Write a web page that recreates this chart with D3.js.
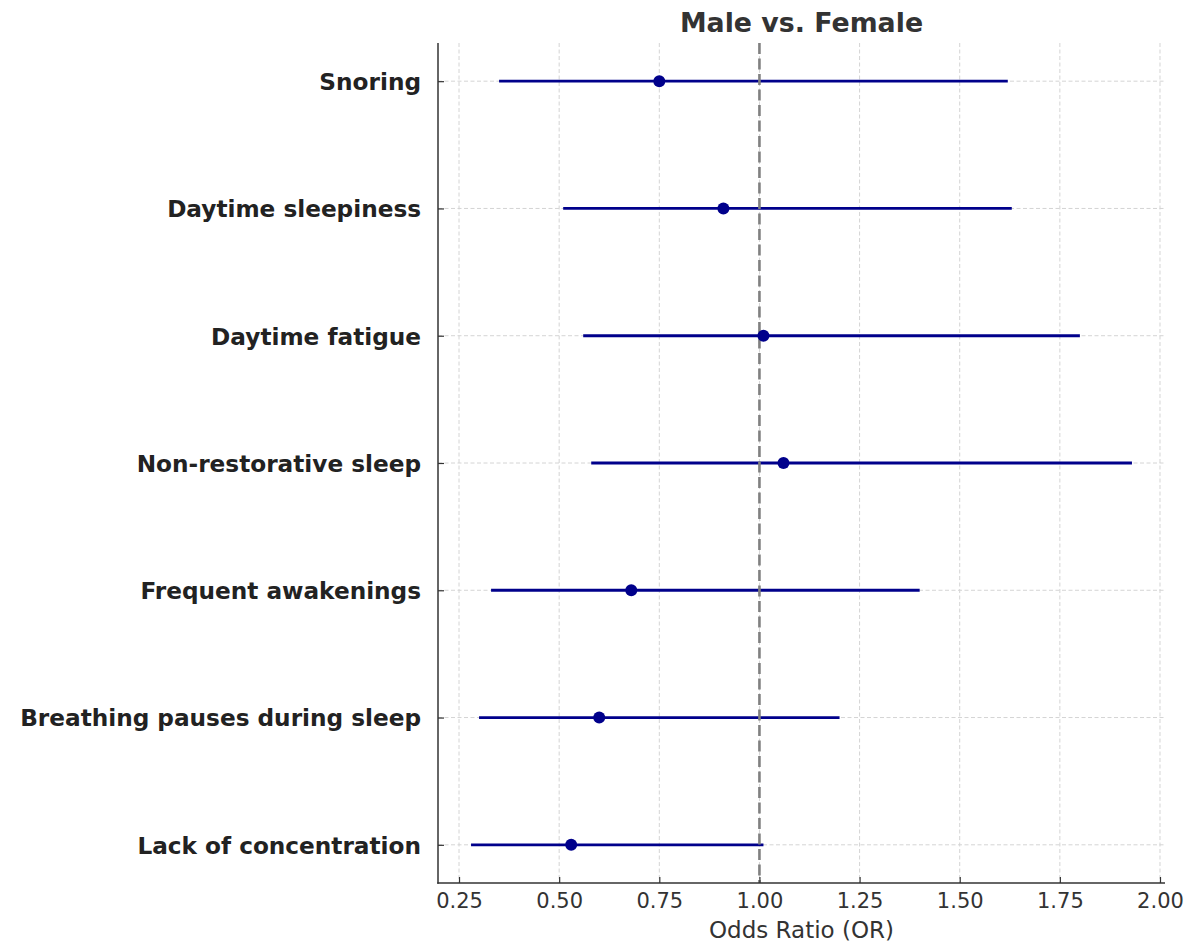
<!DOCTYPE html>
<html>
<head>
<meta charset="utf-8">
<script src="https://cdn.jsdelivr.net/npm/d3@7"></script>
<style>
  html, body { margin: 0; padding: 0; background: #fff; }
  svg { display: block; font-family: "DejaVu Sans", sans-serif; }
</style>
</head>
<body>
<svg id="chart" width="1194" height="946"></svg>
<script>
// Symptoms, top to bottom
const symptoms = [
  "Snoring",
  "Daytime sleepiness",
  "Daytime fatigue",
  "Non-restorative sleep",
  "Frequent awakenings",
  "Breathing pauses during sleep",
  "Lack of concentration"
];
// Odds ratios with 95% confidence limits
const oddsRatio = [0.75, 0.91, 1.01, 1.06, 0.68, 0.60, 0.53];
const ciLower   = [0.35, 0.51, 0.56, 0.58, 0.33, 0.30, 0.28];
const ciUpper   = [1.62, 1.63, 1.80, 1.93, 1.40, 1.20, 1.01];
const xTicks    = [0.25, 0.50, 0.75, 1.00, 1.25, 1.50, 1.75, 2.00];
const referenceOR = 1.0;

const svg = d3.select("#chart");
const plot = { left: 438, right: 1165, top: 43, bottom: 883 };

// 5% padding either side of the interval span
const lo = d3.min(ciLower), hi = d3.max(ciUpper), pad = (hi - lo) * 0.05;
const x = d3.scaleLinear().domain([lo - pad, hi + pad]).range([plot.left, plot.right]);
const y = d3.scalePoint().domain(symptoms).range([plot.top, plot.bottom]).padding(0.3);

// Grid
const grid = svg.append("g").attr("stroke", "#d4d4d4").attr("stroke-width", 1)
  .attr("stroke-dasharray", "4,2.5");
grid.selectAll("line.v").data(xTicks).join("line").attr("class", "v")
  .attr("x1", d => x(d)).attr("x2", d => x(d)).attr("y1", plot.top).attr("y2", plot.bottom);
grid.selectAll("line.h").data(symptoms).join("line").attr("class", "h")
  .attr("x1", plot.left).attr("x2", plot.right).attr("y1", d => y(d)).attr("y2", d => y(d));

// Confidence intervals
svg.append("g").selectAll("line").data(symptoms).join("line")
  .attr("x1", (d, i) => x(ciLower[i])).attr("x2", (d, i) => x(ciUpper[i]))
  .attr("y1", d => y(d)).attr("y2", d => y(d))
  .attr("stroke", "#00008b").attr("stroke-width", 2.8);

// Line of no effect
svg.append("line")
  .attr("x1", x(referenceOR)).attr("x2", x(referenceOR))
  .attr("y1", plot.top).attr("y2", plot.bottom)
  .attr("stroke", "#808080").attr("stroke-width", 2.6)
  .attr("stroke-dasharray", "11,4.5");

// Point estimates
svg.append("g").selectAll("circle").data(symptoms).join("circle")
  .attr("cx", (d, i) => x(oddsRatio[i])).attr("cy", d => y(d))
  .attr("r", 6).attr("fill", "#00008b");

// Axes
const xAxis = svg.append("g").attr("transform", `translate(0,${plot.bottom})`)
  .call(d3.axisBottom(x).tickValues(xTicks).tickFormat(d3.format(".2f"))
    .tickSizeInner(-6).tickSizeOuter(0).tickPadding(10));
xAxis.selectAll("text").attr("font-size", 21).attr("fill", "#333")
  .attr("font-family", "DejaVu Sans");

const yAxis = svg.append("g").attr("transform", `translate(${plot.left},0)`)
  .call(d3.axisLeft(y).tickSizeInner(-6).tickSizeOuter(0).tickPadding(17));
yAxis.selectAll("text").attr("font-size", 23.2).attr("font-weight", "bold")
  .attr("fill", "#222").attr("font-family", "DejaVu Sans").attr("dy", "0.36em");

[xAxis, yAxis].forEach(a => {
  a.select(".domain").attr("stroke", "#333").attr("stroke-width", 1.5);
  a.selectAll(".tick line").attr("stroke", "#333").attr("stroke-width", 1.2);
});
// Axis lines span the full plot area
xAxis.select(".domain").attr("d", `M${plot.left - 0.75},0H${plot.right}`);
yAxis.select(".domain").attr("d", `M0,${plot.top}V${plot.bottom + 0.75}`);

// Labels
svg.append("text").attr("x", (plot.left + plot.right) / 2).attr("y", 32)
  .attr("text-anchor", "middle").attr("font-size", 26.8).attr("font-weight", "bold")
  .attr("fill", "#333").text("Male vs. Female");

svg.append("text").attr("x", (plot.left + plot.right) / 2).attr("y", 938)
  .attr("text-anchor", "middle").attr("font-size", 23)
  .attr("fill", "#333").text("Odds Ratio (OR)");
</script>
</body>
</html>
